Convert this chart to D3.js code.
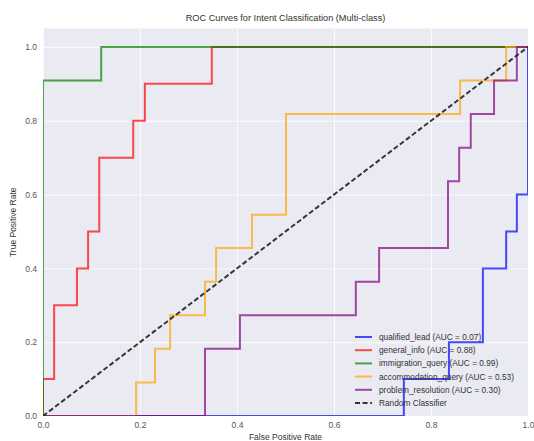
<!DOCTYPE html>
<html>
<head>
<meta charset="utf-8">
<script src="https://cdn.jsdelivr.net/npm/d3@7"></script>
<style>
  html, body { margin: 0; padding: 0; background: #ffffff; }
  svg { display: block; font-family: "Liberation Sans", Arial, sans-serif; }
</style>
</head>
<body>
<svg id="chart" width="534" height="441"></svg>
<script>
// ROC curve vertices (false positive rate / true positive rate) per intent class
const classNames = ["qualified_lead", "general_info", "immigration_query", "accommodation_query", "problem_resolution"];
const aucValues = [0.07, 0.88, 0.99, 0.53, 0.30];
const lineColors = ["#0000ff", "#ff0000", "#008000", "#ffa500", "#800080"];

const fprQualified = [0, 0.744, 0.744, 0.837, 0.837, 0.907, 0.907, 0.955, 0.955, 0.977, 0.977, 1, 1];
const tprQualified = [0, 0, 0.1, 0.1, 0.2, 0.2, 0.4, 0.4, 0.5, 0.5, 0.6, 0.6, 1];

const fprGeneral = [0, 0, 0.023, 0.023, 0.07, 0.07, 0.093, 0.093, 0.116, 0.116, 0.186, 0.186, 0.21, 0.21, 0.348, 0.348, 1];
const tprGeneral = [0, 0.1, 0.1, 0.3, 0.3, 0.4, 0.4, 0.5, 0.5, 0.7, 0.7, 0.8, 0.8, 0.9, 0.9, 1, 1];

const fprImmigration = [0, 0, 0.12, 0.12, 1];
const tprImmigration = [0, 0.909, 0.909, 1, 1];

const fprAccommodation = [0, 0.192, 0.192, 0.231, 0.231, 0.262, 0.262, 0.334, 0.334, 0.357, 0.357, 0.431, 0.431, 0.501, 0.501, 0.860, 0.860, 0.955, 0.955, 1];
const tprAccommodation = [0, 0, 0.091, 0.091, 0.182, 0.182, 0.273, 0.273, 0.364, 0.364, 0.455, 0.455, 0.545, 0.545, 0.818, 0.818, 0.909, 0.909, 1, 1];

const fprProblem = [0, 0.334, 0.334, 0.406, 0.406, 0.645, 0.645, 0.693, 0.693, 0.835, 0.835, 0.858, 0.858, 0.882, 0.882, 0.930, 0.930, 0.977, 0.977, 1];
const tprProblem = [0, 0, 0.182, 0.182, 0.273, 0.273, 0.364, 0.364, 0.455, 0.455, 0.636, 0.636, 0.727, 0.727, 0.818, 0.818, 0.909, 0.909, 1, 1];

const fprSeries = [fprQualified, fprGeneral, fprImmigration, fprAccommodation, fprProblem];
const tprSeries = [tprQualified, tprGeneral, tprImmigration, tprAccommodation, tprProblem];

const tickValues = [0, 0.2, 0.4, 0.6, 0.8, 1.0];
const titleText = "ROC Curves for Intent Classification (Multi-class)";
const xLabel = "False Positive Rate";
const yLabel = "True Positive Rate";
const baselineLabel = "Random Classifier";

// layout
const plot = { left: 43, right: 528, top: 28.5, bottom: 416 };
const x = d3.scaleLinear().domain([0, 1]).range([plot.left, plot.right]);
const y = d3.scaleLinear().domain([0, 1.05]).range([plot.bottom, plot.top]);

const svg = d3.select("#chart");

svg.append("defs").append("clipPath").attr("id", "plotClip")
  .append("rect")
  .attr("x", plot.left).attr("y", plot.top)
  .attr("width", plot.right - plot.left).attr("height", plot.bottom - plot.top);

// axes background
svg.append("rect")
  .attr("x", plot.left).attr("y", plot.top)
  .attr("width", plot.right - plot.left).attr("height", plot.bottom - plot.top)
  .attr("fill", "#eaeaf2");

// white grid from the axis generators
const xAxis = d3.axisBottom(x).tickValues(tickValues).tickFormat(d3.format(".1f"))
  .tickSize(-(plot.bottom - plot.top)).tickPadding(6);
const yAxis = d3.axisLeft(y).tickValues(tickValues).tickFormat(d3.format(".1f"))
  .tickSize(-(plot.right - plot.left)).tickPadding(6);

const gx = svg.append("g").attr("transform", `translate(0,${plot.bottom})`).call(xAxis);
const gy = svg.append("g").attr("transform", `translate(${plot.left},0)`).call(yAxis);
[gx, gy].forEach(g => {
  g.select(".domain").remove();
  g.selectAll(".tick line").attr("stroke", "#ffffff").attr("stroke-width", 0.8);
  g.selectAll(".tick text").attr("fill", "#555555").attr("font-size", 8.5)
    .attr("font-family", "Liberation Sans, Arial, sans-serif");
});

// ROC curves
const line = d3.line().x(d => x(d[0])).y(d => y(d[1]));
const curves = svg.append("g").attr("clip-path", "url(#plotClip)");
classNames.forEach((name, i) => {
  const pts = fprSeries[i].map((f, j) => [f, tprSeries[i][j]]);
  curves.append("path")
    .datum(pts)
    .attr("d", line)
    .attr("fill", "none")
    .attr("stroke", lineColors[i])
    .attr("stroke-opacity", 0.7)
    .attr("stroke-width", 2)
    .attr("stroke-linejoin", "miter");
});

// chance diagonal
curves.append("path")
  .datum([[0, 0], [1, 1]])
  .attr("d", line)
  .attr("fill", "none")
  .attr("stroke", "#222222")
  .attr("stroke-opacity", 0.9)
  .attr("stroke-width", 2)
  .attr("stroke-dasharray", "5,2.6");

// title and axis labels
svg.append("text")
  .attr("x", (plot.left + plot.right) / 2).attr("y", 21)
  .attr("text-anchor", "middle").attr("font-size", 9.2).attr("fill", "#333333")
  .text(titleText);

svg.append("text")
  .attr("x", (plot.left + plot.right) / 2).attr("y", 440)
  .attr("text-anchor", "middle").attr("font-size", 8.5).attr("fill", "#333333")
  .text(xLabel);

svg.append("text")
  .attr("transform", `translate(16,${(plot.top + plot.bottom) / 2}) rotate(-90)`)
  .attr("text-anchor", "middle").attr("font-size", 8.5).attr("fill", "#333333")
  .text(yLabel);

// legend
const legendEntries = classNames.map((n, i) => ({
  label: `${n} (AUC = ${aucValues[i].toFixed(2)})`, color: lineColors[i], dashed: false
}));
legendEntries.push({ label: baselineLabel, color: "#222222", dashed: true });

const legend = svg.append("g").attr("transform", "translate(355,337)");
legendEntries.forEach((e, i) => {
  const gy0 = i * 13.2;
  legend.append("line")
    .attr("x1", 0).attr("x2", 17).attr("y1", gy0).attr("y2", gy0)
    .attr("stroke", e.color).attr("stroke-width", 2)
    .attr("stroke-opacity", e.dashed ? 0.9 : 0.7)
    .attr("stroke-dasharray", e.dashed ? "5,2.6" : null);
  legend.append("text")
    .attr("x", 24).attr("y", gy0).attr("dy", "0.35em")
    .attr("font-size", 8.3).attr("fill", "#333333")
    .text(e.label);
});
</script>
</body>
</html>
